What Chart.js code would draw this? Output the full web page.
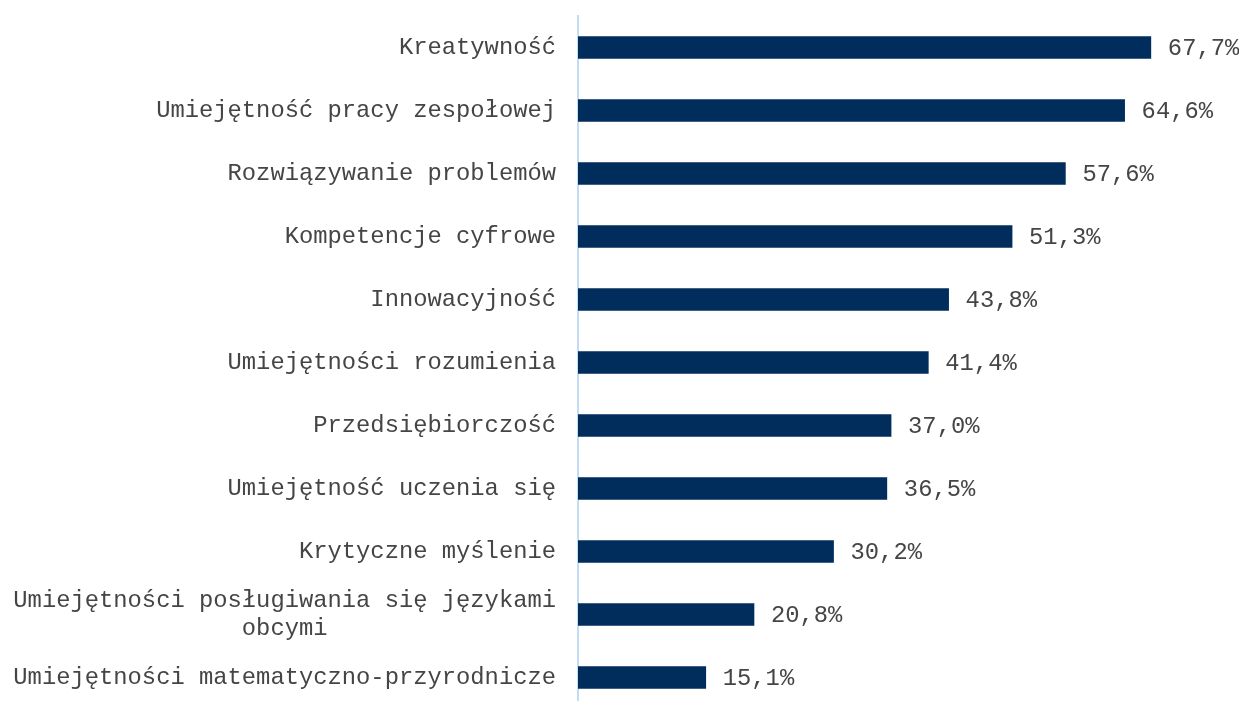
<!DOCTYPE html>
<html>
<head>
<meta charset="utf-8">
<script src="https://cdn.jsdelivr.net/npm/chart.js@4/dist/chart.umd.min.js"></script>
<style>
  html, body { margin: 0; padding: 0; background: #fff; overflow: hidden; }
  #wrap { width: 1239px; height: 709px; position: relative; }
</style>
</head>
<body>
<div id="wrap"><canvas id="chart"></canvas></div>
<script>
  // Dane
  const kategorie = [
    'Kreatywność',
    'Umiejętność pracy zespołowej',
    'Rozwiązywanie problemów',
    'Kompetencje cyfrowe',
    'Innowacyjność',
    'Umiejętności rozumienia',
    'Przedsiębiorczość',
    'Umiejętność uczenia się',
    'Krytyczne myślenie',
    ['Umiejętności posługiwania się językami', 'obcymi'],
    'Umiejętności matematyczno-przyrodnicze'
  ];
  const wartosci = [67.7, 64.6, 57.6, 51.3, 43.8, 41.4, 37.0, 36.5, 30.2, 20.8, 15.1];
  const osMax = 78;

  const font = "'Courier New', 'Liberation Mono', monospace";
  const textColor = '#454545';

  // etykiety wieloliniowe: druga linia wyśrodkowana pod pierwszą (font monospace)
  const etykiety = kategorie.map(k => {
    if (!Array.isArray(k)) return k;
    const w = Math.max(...k.map(s => s.length));
    return k.map(s => s + ' '.repeat(Math.floor((w - s.length) / 2)));
  });

  const formatuj = v => v.toFixed(1).replace('.', ',') + '%';

  // własne etykiety danych (bez pluginu datalabels)
  const etykietyDanych = {
    id: 'etykietyDanych',
    afterDatasetsDraw(chart) {
      const ctx = chart.ctx;
      const meta = chart.getDatasetMeta(0);
      ctx.save();
      ctx.font = `23.8px ${font}`;
      ctx.fillStyle = textColor;
      ctx.textAlign = 'left';
      ctx.textBaseline = 'middle';
      meta.data.forEach((bar, i) => {
        ctx.fillText(formatuj(wartosci[i]), bar.x + 17, bar.y + 1);
      });
      ctx.restore();
    }
  };

  new Chart(document.getElementById('chart').getContext('2d'), {
    type: 'bar',
    data: {
      labels: etykiety,
      datasets: [{
        data: wartosci,
        backgroundColor: '#002D5B',
        borderWidth: 0,
        barThickness: 22
      }]
    },
    options: {
      indexAxis: 'y',
      responsive: true,
      maintainAspectRatio: false,
      animation: false,
      layout: { padding: { top: 16, right: 1, bottom: 0, left: 0 } },
      plugins: { legend: { display: false }, tooltip: { enabled: false } },
      scales: {
        x: { display: false, min: 0, max: osMax },
        y: {
          afterFit: (scale) => {
            scale.width = 578;
            scale.paddingTop = 0;
            scale.paddingBottom = 0;
          },
          grid: { display: true, drawOnChartArea: false, drawTicks: false },
          border: { display: true, color: '#C2DCF4', width: 2 },
          ticks: {
            color: textColor,
            padding: 22,
            font: { family: font, size: 23.8, lineHeight: 1.2 }
          }
        }
      }
    },
    plugins: [etykietyDanych]
  });
</script>
</body>
</html>
